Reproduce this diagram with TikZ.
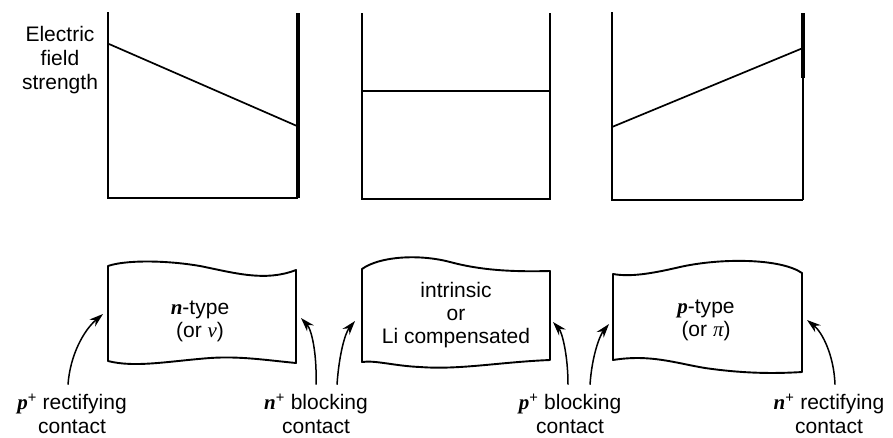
\documentclass[tikz,border=0pt]{standalone}
\usepackage{fontspec}
\setmainfont{Liberation Sans}
\newfontfamily\symfont{Liberation Serif}
\usetikzlibrary{arrows.meta}
\newcommand{\vi}[1]{{\symfont\bfseries\itshape #1}}
\newcommand{\gi}[1]{{\symfont\itshape #1}}
\begin{document}
\begin{tikzpicture}[x=1pt,y=-1pt,
  plotline/.style={line width=1.7pt},
  thickedge/.style={line width=3.2pt},
  blockline/.style={line width=1.9pt, line join=round},
  arr/.style={line width=1.5pt, -{Stealth[length=14pt,width=9pt]}},
  txt/.style={font=\fontsize{21}{24}\selectfont, align=center, inner sep=0pt},
  btxt/.style={font=\fontsize{21}{23}\selectfont, align=center, inner sep=0pt}]
\useasboundingbox (0,0) rectangle (893,437);

% ---------- top panels ----------
\node[txt] (efs) at (60,60) {Electric\\field\\strength};
\draw[plotline] (108,12) -- (108,198) -- (298,198);
\draw[thickedge] (298,13) -- (298,198);
\draw[plotline] (109,44) -- (297,126);

\draw[plotline] (362,13) -- (362,199) -- (550,199) -- (550,13);
\draw[plotline] (362,91) -- (550,91);

\draw[plotline] (612,12) -- (612,200) -- (803,200);
\draw[plotline] (803,13) -- (803,200);
\draw[thickedge] (803,13) -- (803,78);
\draw[plotline] (612,127) -- (803,48);

% ---------- blocks ----------
\draw[blockline] (108,266) .. controls (125,260) and (165,260) .. (200,266)
  .. controls (235,273) and (265,282) .. (296,270) -- (296,363)
  .. controls (265,360) and (240,356) .. (210,358)
  .. controls (170,361) and (135,368) .. (108,361) -- cycle;
\draw[blockline] (362,269) .. controls (380,256) and (420,254) .. (450,262)
  .. controls (480,270) and (510,272) .. (550,271) -- (550,360)
  .. controls (500,362) and (460,370) .. (420,367)
  .. controls (395,366) and (375,360) .. (362,362) -- cycle;
\draw[blockline] (613,274) .. controls (630,277) and (650,274) .. (680,267)
  .. controls (720,258) and (780,258) .. (802,273) -- (802,372)
  .. controls (770,374) and (740,373) .. (705,368)
  .. controls (675,363) and (650,354) .. (613,360) -- cycle;

\node[btxt] (nt) at (200,321) {\vi{n}-type\\(or \gi{ν})};
\node[btxt] (it) at (456,315) {intrinsic\\or\\Li compensated};
\node[btxt] (pt) at (706,320) {\vi{p}-type\\(or \gi{π})};

% ---------- labels ----------
\node[txt] (l1) at (72,414) {\vi{p}\textsuperscript{+} rectifying\\contact};
\node[txt] (l2) at (316,414) {\vi{n}\textsuperscript{+} blocking\\contact};
\node[txt] (l3) at (570,414) {\vi{p}\textsuperscript{+} blocking\\contact};
\node[txt] (l4) at (829,414) {\vi{n}\textsuperscript{+} rectifying\\contact};

\coordinate (t1) at (103,314);
\coordinate (t2) at (301,318);
\coordinate (t3) at (355,321);
\coordinate (t4) at (553,322);
\coordinate (t5) at (609,324);
\coordinate (t6) at (807,320);

\draw[arr] ([xshift=-4pt,yshift=9pt]l1.north) .. controls (70,355) and (84,330) .. (t1);
\draw[arr] ([xshift=0pt,yshift=9pt]l2.north) .. controls (317,355) and (312,330) .. (t2);
\draw[arr] ([xshift=21pt,yshift=9pt]l2.north) .. controls (339,355) and (345,333) .. (t3);
\draw[arr] ([xshift=-2pt,yshift=9pt]l3.north) .. controls (568,355) and (562,332) .. (t4);
\draw[arr] ([xshift=20pt,yshift=9pt]l3.north) .. controls (592,355) and (600,335) .. (t5);
\draw[arr] ([xshift=6pt,yshift=9pt]l4.north) .. controls (834,355) and (822,332) .. (t6);
\end{tikzpicture}
\end{document}
